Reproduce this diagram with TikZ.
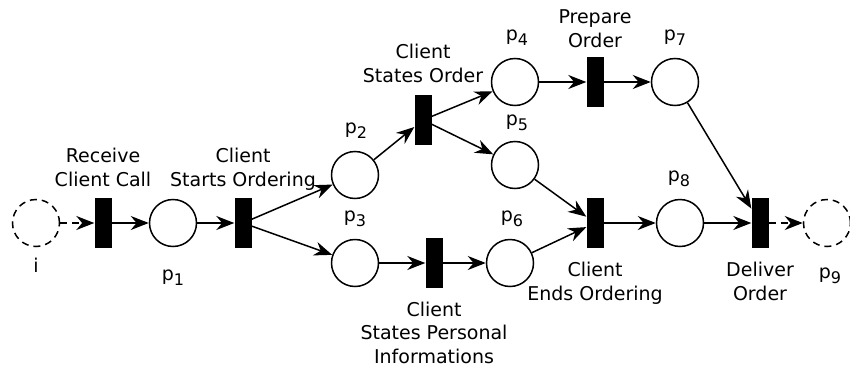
\documentclass[tikz,border=0pt]{standalone}
\usepackage{fontspec}
\setmainfont{DejaVu Sans}
\usetikzlibrary{arrows.meta,positioning}
\newcommand{\pl}[1]{p\raisebox{-5pt}{\fontsize{16}{16}\selectfont #1}}

\begin{document}
\begin{tikzpicture}[x=1pt,y=-1pt,
  every node/.style={font=\fontsize{19}{23.5}\selectfont},
  place/.style={circle,draw,line width=1.5pt,minimum size=47pt,inner sep=0pt},
  trans/.style={rectangle,fill=black,minimum width=17pt,minimum height=50pt,inner sep=0pt},
  arc/.style={line width=1.5pt,-{Stealth[length=18pt,width=14pt]}},
  dsh/.style={dash pattern=on 7pt off 5pt},
  lbl/.style={align=center,anchor=base,inner sep=0pt}]
\useasboundingbox (0,0) rectangle (850,372);

  % places
  \node[place,dsh] (i) at (36,223) {};
  \node[place] (p1) at (173,223) {};
  \node[place] (p2) at (355,175) {};
  \node[place] (p3) at (355,263) {};
  \node[place] (p4) at (515,82) {};
  \node[place] (p5) at (515,165) {};
  \node[place] (p6) at (510,263) {};
  \node[place] (p7) at (675,82) {};
  \node[place] (p8) at (680,223) {};
  \node[place,dsh] (p9) at (827,223) {};

  % transitions
  \node[trans] (t1) at (103,223) {};
  \node[trans] (t2) at (243,223) {};
  \node[trans] (t3) at (423,120) {};
  \node[trans] (t4) at (595,82) {};
  \node[trans] (t5) at (595,223) {};
  \node[trans] (t6) at (760,223) {};
  \node[trans] (t7) at (434,263) {};

  % place labels
  \node[lbl] (li) at (36,272) {i};
  \node[lbl] (l1) at (173,280) {\pl{1}};
  \node[lbl] (l2) at (356,133) {\pl{2}};
  \node[lbl] (l3) at (355,221) {\pl{3}};
  \node[lbl] (l4) at (517,40) {\pl{4}};
  \node[lbl] (l5) at (517,125) {\pl{5}};
  \node[lbl] (l6) at (512,221) {\pl{6}};
  \node[lbl] (l7) at (675,40) {\pl{7}};
  \node[lbl] (l8) at (679,181) {\pl{8}};
  \node[lbl] (l9) at (830,278) {\pl{9}};

  % transition labels (base = last line)
  \node[lbl] (lt1) at (103,186) {Receive\\Client Call};
  \node[lbl] (lt2) at (243,186) {Client\\Starts Ordering};
  \node[lbl] (lt3) at (423,82) {Client\\States Order};
  \node[lbl] (lt4) at (595,47) {Prepare\\Order};
  \node[lbl] (lt5) at (595,300) {Client\\Ends Ordering};
  \node[lbl] (lt6) at (760,300) {Deliver\\Order};
  \node[lbl] (lt7) at (434,363) {Client\\States Personal\\Informations};

  % arcs
  \draw[arc,dsh] (i) -- (t1);
  \draw[arc] (t1) -- (p1);
  \draw[arc] (p1) -- (t2);
  \draw[arc] (t2) -- (p2);
  \draw[arc] (t2) -- (p3);
  \draw[arc] (p2) -- (t3);
  \draw[arc] (t3) -- (p4);
  \draw[arc] (t3) -- (p5);
  \draw[arc] (p4) -- (t4);
  \draw[arc] (t4) -- (p7);
  \draw[arc] (p3) -- (t7);
  \draw[arc] (t7) -- (p6);
  \draw[arc] (p5) -- (t5);
  \draw[arc] (p6) -- (t5);
  \draw[arc] (t5) -- (p8);
  \draw[arc] (p7) -- (t6);
  \draw[arc] (p8) -- (t6);
  \draw[arc,dsh] (t6) -- (p9);
\end{tikzpicture}
\end{document}
